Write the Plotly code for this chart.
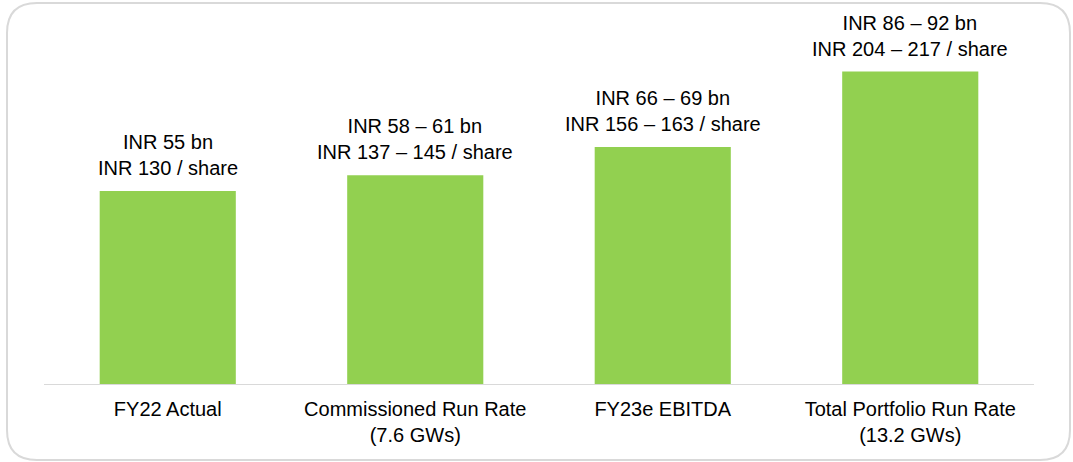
import plotly.graph_objects as go

categories = ["FY22 Actual", "Commissioned Run Rate<br>(7.6 GWs)", "FY23e EBITDA",
              "Total Portfolio Run Rate<br>(13.2 GWs)"]
values = [55, 59.5, 67.5, 89]  # INR bn (midpoints of ranges)
labels_bn = ["INR 55 bn", "INR 58 – 61 bn", "INR 66 – 69 bn", "INR 86 – 92 bn"]
labels_share = ["INR 130 / share", "INR 137 – 145 / share", "INR 156 – 163 / share",
                "INR 204 – 217 / share"]

FONT = "Arial, Liberation Sans, sans-serif"
W, H = 1073, 462
ML, MR, MT, MB = 44, 39, 33, 78

fig = go.Figure()
fig.add_trace(go.Bar(x=categories, y=values, marker=dict(color="#92D050", line=dict(width=0)),
                     hoverinfo="skip"))

for c, v, a, b in zip(categories, values, labels_bn, labels_share):
    fig.add_annotation(x=c, y=v, text=f"{a}<br>{b}", showarrow=False, yanchor="bottom",
                       yshift=10, font=dict(family=FONT, size=20, color="#000000"))

# rounded border in paper coordinates
pw, ph = W - ML - MR, H - MT - MB
def px(X):
    return (X - ML) / pw
def py(Y):
    return (H - MB - Y) / ph
x0, x1, y0, y1, r = 7, 1070, 3, 460, 30
path = (f"M {px(x0+r)},{py(y0)} L {px(x1-r)},{py(y0)} Q {px(x1)},{py(y0)} {px(x1)},{py(y0+r)} "
        f"L {px(x1)},{py(y1-r)} Q {px(x1)},{py(y1)} {px(x1-r)},{py(y1)} "
        f"L {px(x0+r)},{py(y1)} Q {px(x0)},{py(y1)} {px(x0)},{py(y1-r)} "
        f"L {px(x0)},{py(y0+r)} Q {px(x0)},{py(y0)} {px(x0+r)},{py(y0)} Z")
fig.add_shape(type="path", path=path, xref="paper", yref="paper",
              line=dict(color="#d9d9d9", width=2), layer="below")

fig.update_layout(
    width=W, height=H,
    margin=dict(l=ML, r=MR, t=MT, b=MB),
    paper_bgcolor="white", plot_bgcolor="white",
    bargap=0.45, showlegend=False,
    font=dict(family=FONT, size=20, color="#000000"),
    xaxis=dict(showline=True, linecolor="#d9d9d9", linewidth=1, ticks="",
               ticklabelstandoff=7,
               tickfont=dict(family=FONT, size=20, color="#000000"), fixedrange=True),
    yaxis=dict(range=[0, 100], visible=False, showgrid=False, fixedrange=True),
)

fig.write_html("out.html", config={"displayModeBar": False},
               post_script="document.body.style.margin='0';document.body.style.overflow='hidden';")
